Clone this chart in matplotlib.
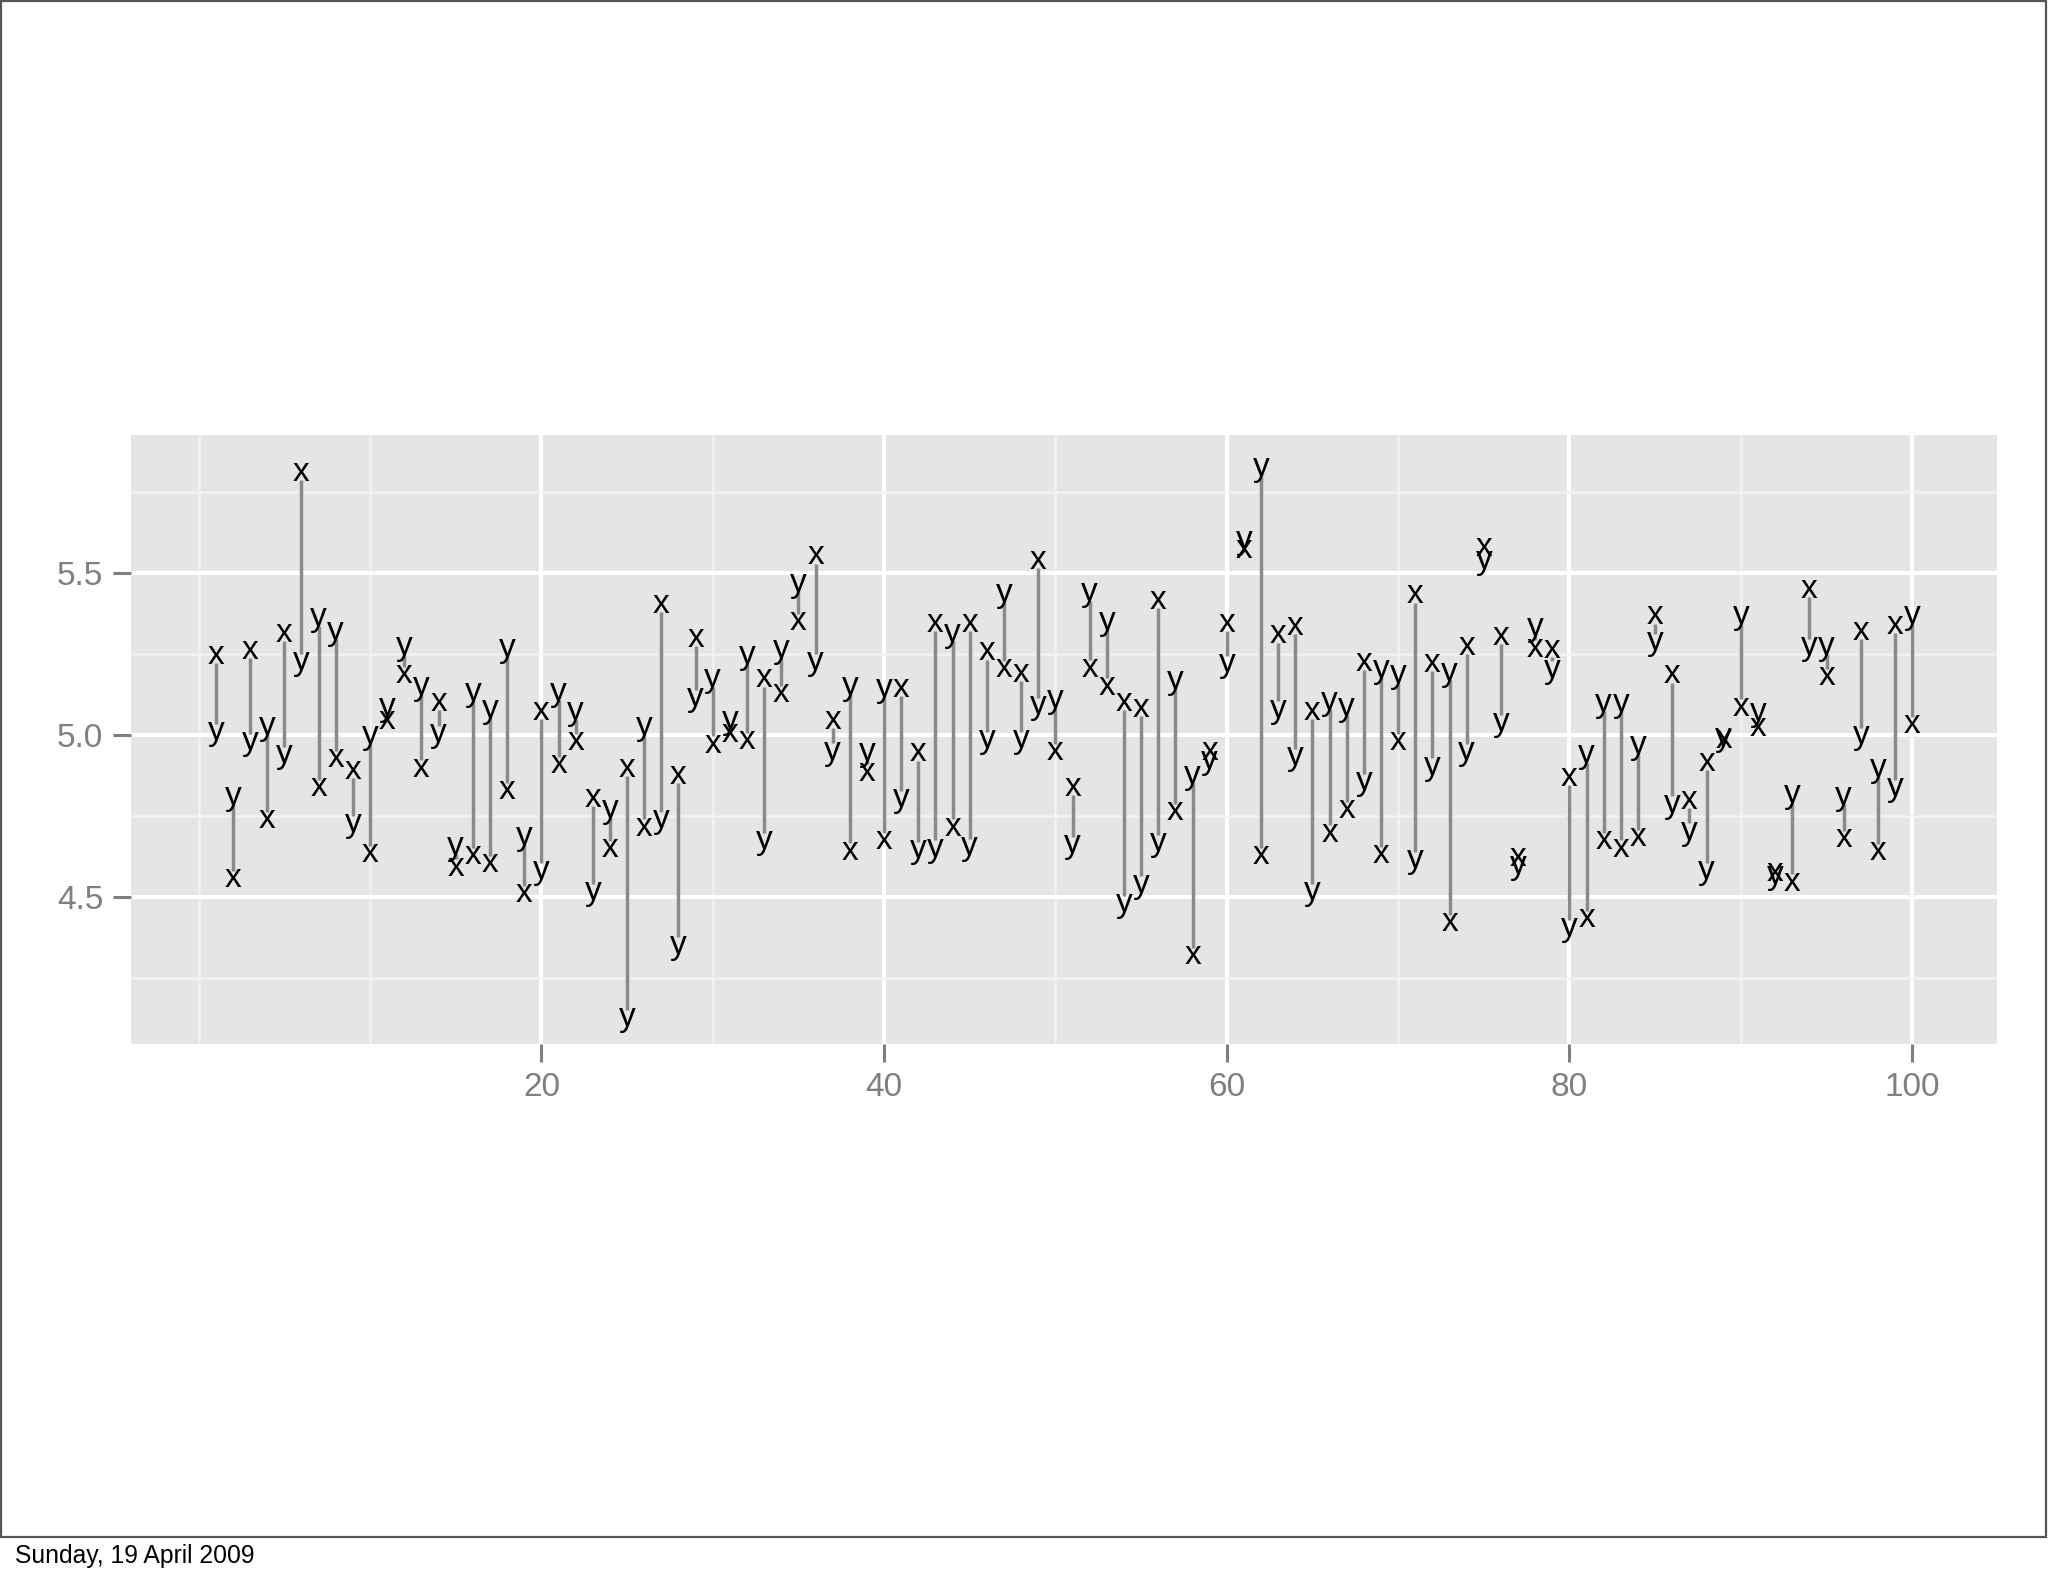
import numpy as np
import matplotlib
matplotlib.use("Agg")
from matplotlib import pyplot as plt
from matplotlib.patches import Rectangle
from matplotlib.ticker import FixedLocator

plt.rcParams['font.family'] = ['Liberation Sans', 'DejaVu Sans']

# one pair of values per index, arrow goes from x to y
idx = list(range(1, 101))
x_vals = [5.244, 4.556, 5.261, 4.739, 5.314, 5.810, 4.836, 4.927, 4.891, 4.633,
          5.044, 5.185, 4.897, 5.099, 4.592, 4.627, 4.603, 4.827, 4.509, 5.073,
          4.909, 4.979, 4.803, 4.648, 4.897, 4.715, 5.402, 4.874, 5.297, 4.971,
          5.005, 4.983, 5.173, 5.126, 5.350, 5.552, 5.044, 4.641, 4.885, 4.674,
          5.144, 4.944, 5.344, 4.715, 5.344, 5.256, 5.204, 5.189, 5.538, 4.947,
          4.838, 5.206, 5.150, 5.099, 5.082, 5.414, 4.762, 4.319, 4.950, 5.344,
          5.573, 4.627, 5.308, 5.335, 5.073, 4.697, 4.768, 5.223, 4.630, 4.979,
          5.432, 5.220, 4.421, 5.273, 5.579, 5.303, 4.621, 5.267, 5.264, 4.868,
          4.433, 4.674, 4.650, 4.683, 5.367, 5.185, 4.797, 4.915, 4.985, 5.085,
          5.021, 4.575, 4.545, 5.449, 5.179, 4.680, 5.320, 4.639, 5.338, 5.032]
y_vals = [5.009, 4.809, 4.979, 5.026, 4.938, 5.226, 5.361, 5.320, 4.727, 4.997,
          5.085, 5.273, 5.150, 5.003, 4.656, 5.132, 5.079, 5.267, 4.686, 4.580,
          5.132, 5.071, 4.515, 4.768, 4.128, 5.026, 4.739, 4.351, 5.115, 5.173,
          5.044, 5.244, 4.674, 5.264, 5.467, 5.226, 4.950, 5.150, 4.944, 5.144,
          4.803, 4.645, 4.650, 5.314, 4.656, 4.985, 5.435, 4.985, 5.091, 5.109,
          4.662, 5.438, 5.350, 4.480, 4.539, 4.668, 5.167, 4.874, 4.921, 5.220,
          5.600, 5.825, 5.079, 4.932, 4.515, 5.103, 5.085, 4.856, 5.203, 5.185,
          4.615, 4.903, 5.193, 4.947, 5.538, 5.038, 4.598, 5.332, 5.203, 4.404,
          4.938, 5.097, 5.097, 4.968, 5.287, 4.786, 4.703, 4.580, 4.991, 5.367,
          5.068, 4.565, 4.815, 5.273, 5.273, 4.809, 4.997, 4.897, 4.838, 5.367]

x_major = [20, 40, 60, 80, 100]
x_minor = [0, 10, 30, 50, 70, 90]
y_major = [4.5, 5.0, 5.5]
y_minor = [4.25, 4.75, 5.25, 5.75]

W, H = 2048, 1576
fig = plt.figure(figsize=(W / 100, H / 100), dpi=100)
ax = fig.add_axes([131 / W, 1 - 1044 / H, (1997 - 131) / W, (1044 - 435) / H])
ax.set_facecolor('#E5E5E5')
for s in ax.spines.values():
    s.set_visible(False)
ax.set_xlim(-3.95, 104.95)
ax.set_ylim(4.046, 5.925)

ax.xaxis.set_major_locator(FixedLocator(x_major))
ax.xaxis.set_minor_locator(FixedLocator(x_minor))
ax.yaxis.set_major_locator(FixedLocator(y_major))
ax.yaxis.set_minor_locator(FixedLocator(y_minor))
ax.set_yticklabels(["%.1f" % v for v in y_major])
ax.grid(which='major', color='white', lw=2.9)
ax.grid(which='minor', color='#F2F2F2', lw=1.8)
ax.set_axisbelow(True)
ax.tick_params(which='major', length=13, width=2.2, color='#7F7F7F',
               labelcolor='#7F7F7F', labelsize=24, pad=7)
ax.tick_params(which='minor', length=0)

# segments, trimmed so they stop at the letters
gap = 0.024
for i, xv, yv in zip(idx, x_vals, y_vals):
    d = yv - xv
    if abs(d) > 2 * gap:
        sgn = np.sign(d)
        ax.plot([i, i], [xv + sgn * gap, yv - sgn * gap], color='#8A8A8A',
                lw=2.5, solid_capstyle='butt', zorder=2)

for i, xv, yv in zip(idx, x_vals, y_vals):
    ax.text(i, xv, "x", ha='center', va='center', fontsize=24, color='black', zorder=3)
    ax.text(i, yv, "y", ha='center', va='center', fontsize=24, color='black', zorder=3)

# slide frame and date
fig.add_artist(Rectangle((1 / W, 1 - 1537 / H), (2046 - 1) / W, (1537 - 1) / H,
                         transform=fig.transFigure, fill=False,
                         edgecolor='#555555', lw=1.6))
fig.text(15 / W, 1 - 1563 / H, "Sunday, 19 April 2009", fontsize=17.8,
         color='black', va='baseline', ha='left')

fig.savefig("out.png", dpi=100)
